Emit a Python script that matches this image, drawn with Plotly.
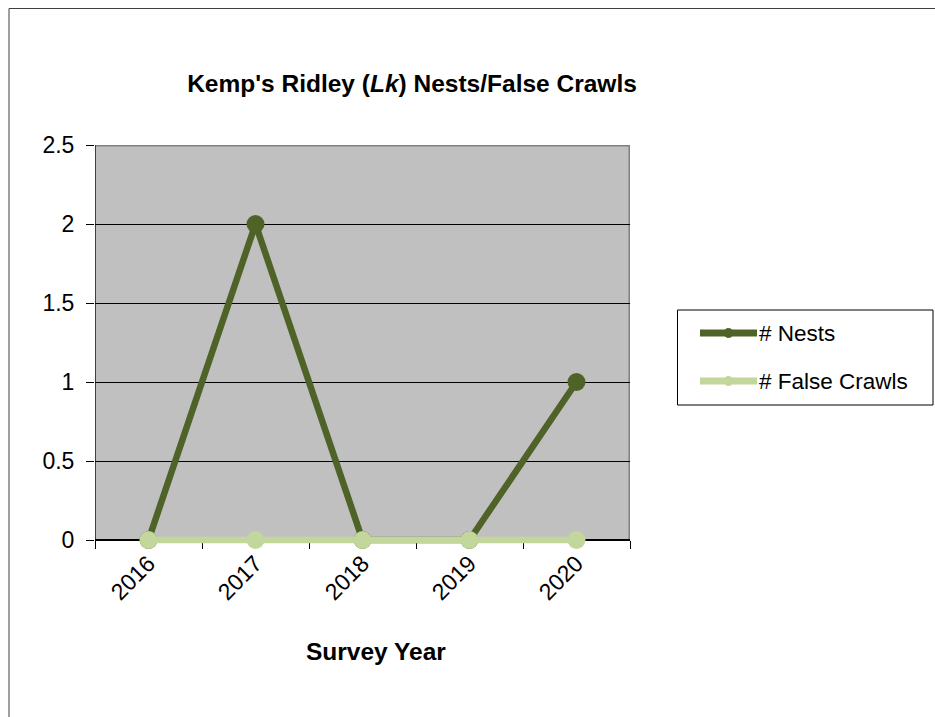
import plotly.graph_objects as go

years = ["2016", "2017", "2018", "2019", "2020"]
nests = [0, 2, 0, 0, 1]
false_crawls = [0, 0, 0, 0, 0]
series_names = ["# Nests", "# False Crawls"]
series_colors = ["#4F6228", "#C3D69B"]
y_max = 2.5

W, H = 935, 717
L, R, T, B = 95, 630, 145, 540
EXT = 8                      # extra pixels below zero so the zero-level line is not clipped
B2 = B + EXT
ppu = (B - T) / y_max        # pixels per unit
y_min = -EXT / ppu

def px(x):
    return (x - L) / (R - L)

def py(y):
    return (B2 - y) / (B2 - T)

FONT = "Liberation Sans, Arial, sans-serif"

fig = go.Figure()
for name, vals, col in zip(series_names, [nests, false_crawls], series_colors):
    fig.add_trace(go.Scatter(
        x=years, y=vals, name=name, mode="lines+markers",
        line=dict(color=col, width=6.5),
        marker=dict(color=col, size=18),
        cliponaxis=False, showlegend=False,
    ))

shapes = [
    # plot area background
    dict(type="rect", xref="x", yref="y", x0=-0.5, x1=4.5, y0=0, y1=y_max,
         fillcolor="#C0C0C0", line=dict(width=0), layer="below"),
    dict(type="line", xref="x", yref="y", x0=-0.5, x1=4.5, y0=y_max, y1=y_max,
         line=dict(color="#808080", width=3), layer="below"),
    dict(type="line", xref="x", yref="y", x0=4.5, x1=4.5, y0=0, y1=y_max,
         line=dict(color="#808080", width=3), layer="below"),
    dict(type="line", xref="x", yref="y", x0=-0.5, x1=-0.5, y0=0, y1=y_max,
         line=dict(color="#404040", width=2), layer="below"),
    # outer chart border
    dict(type="rect", xref="paper", yref="paper",
         x0=px(9), x1=px(960), y0=py(8.5), y1=py(740),
         line=dict(color="#404040", width=1), layer="below"),
    # legend box
    dict(type="rect", xref="paper", yref="paper",
         x0=px(677.5), x1=px(933), y0=py(310), y1=py(405),
         line=dict(color="black", width=1), fillcolor="white", layer="above"),
]
annotations = [
    dict(text="<b>Survey Year</b>", xref="paper", yref="paper",
         x=px(376), y=py(651), xanchor="center", yanchor="middle",
         showarrow=False, font=dict(size=24.5, family=FONT, color="black")),
]
for i, (name, col) in enumerate(zip(series_names, series_colors)):
    yc = 333 + i * 48
    shapes.append(dict(type="line", xref="paper", yref="paper",
                       x0=px(700), x1=px(757), y0=py(yc), y1=py(yc),
                       line=dict(color=col, width=7), layer="above"))
    shapes.append(dict(type="circle", xref="paper", yref="paper",
                       x0=px(724), x1=px(733), y0=py(yc - 4.5), y1=py(yc + 4.5),
                       line=dict(color=col, width=1), fillcolor=col, layer="above"))
    annotations.append(dict(text=name, xref="paper", yref="paper",
                            x=px(757), y=py(yc), xanchor="left", yanchor="middle",
                            showarrow=False,
                            font=dict(size=22.5, family=FONT, color="black")))

fig.update_layout(
    width=W, height=H,
    margin=dict(l=L, r=W - R, t=T, b=H - B2, pad=0),
    paper_bgcolor="white",
    plot_bgcolor="rgba(0,0,0,0)",
    font=dict(family=FONT, size=23, color="black"),
    showlegend=False,
    title=dict(
        text="<b>Kemp's Ridley (<i>Lk</i>) Nests/False Crawls</b>",
        x=412 / W, xanchor="center", xref="container",
        y=1 - 83 / H, yanchor="middle", yref="container",
        font=dict(size=24.5, family=FONT, color="black"),
    ),
    xaxis=dict(
        type="category", range=[-0.5, 4.5], tickson="boundaries",
        anchor="free", position=EXT / (B2 - T),
        ticks="outside", ticklen=8, tickcolor="black", tickwidth=1,
        showline=True, linecolor="black", linewidth=2,
        showgrid=False, tickangle=-45, zeroline=False,
        layer="below traces",
    ),
    yaxis=dict(
        range=[y_min, y_max], tickvals=[0, 0.5, 1, 1.5, 2, 2.5],
        ticktext=["0", "0.5", "1", "1.5", "2", "2.5"],
        ticks="outside", ticklen=8, tickcolor="black", tickwidth=1,
        showline=False,
        showgrid=True, gridcolor="black", gridwidth=1, zeroline=False,
        ticklabelstandoff=7, layer="below traces",
    ),
    shapes=shapes,
    annotations=annotations,
)

fig.write_html("out.html")
